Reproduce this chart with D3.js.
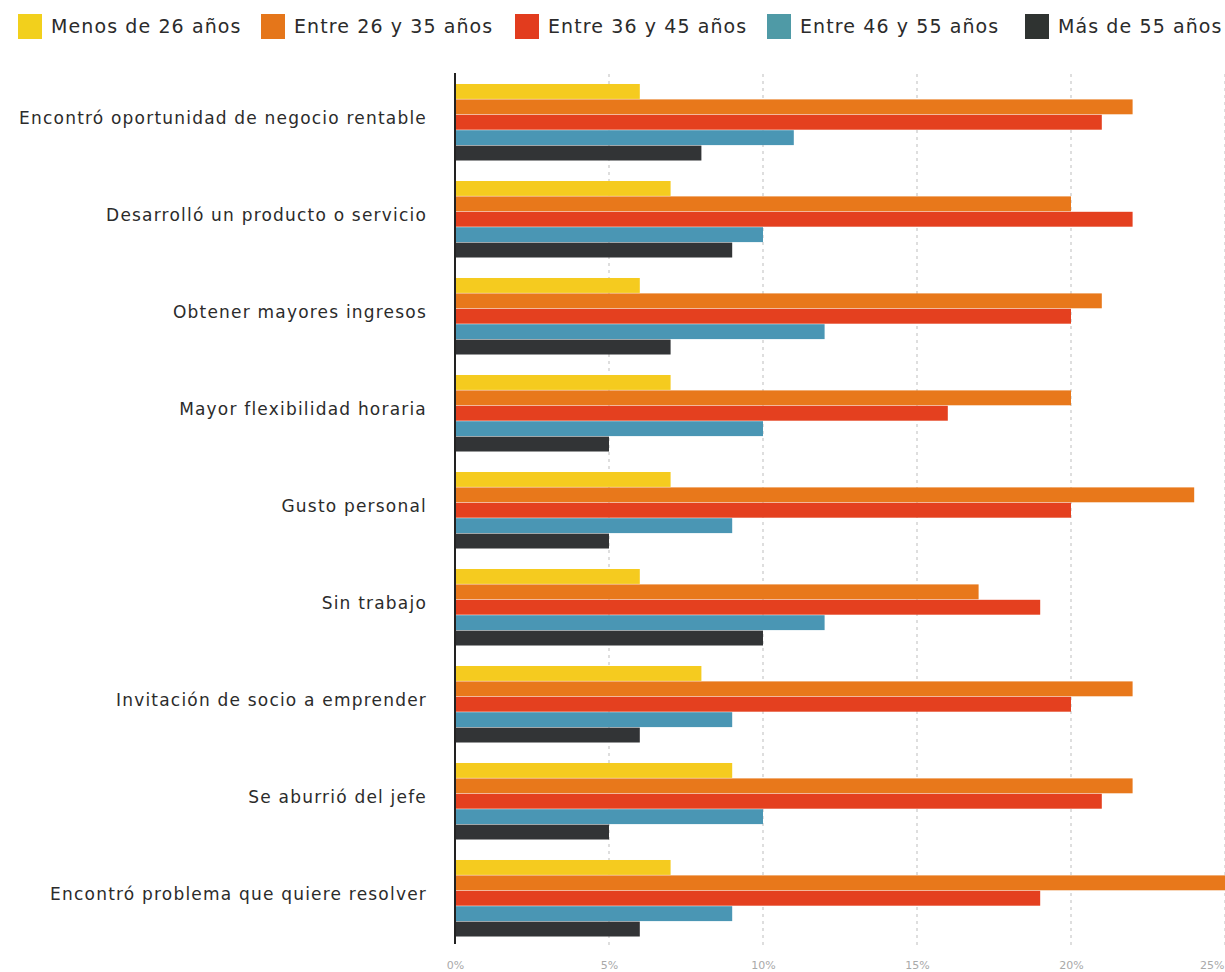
<!DOCTYPE html>
<html><head><meta charset="utf-8">
<script src="https://cdn.jsdelivr.net/npm/d3@7"></script>
<style>
html,body{margin:0;padding:0;background:#fff;}
svg{display:block;font-family:"DejaVu Sans",sans-serif;}
</style></head>
<body>
<svg id="c" width="1225" height="972"></svg>
<script>
const categories = [
  "Encontró oportunidad de negocio rentable",
  "Desarrolló un producto o servicio",
  "Obtener mayores ingresos",
  "Mayor flexibilidad horaria",
  "Gusto personal",
  "Sin trabajo",
  "Invitación de socio a emprender",
  "Se aburrió del jefe",
  "Encontró problema que quiere resolver"
];
const seriesNames = ["Menos de 26 años","Entre 26 y 35 años","Entre 36 y 45 años","Entre 46 y 55 años","Más de 55 años"];
const seriesColors = ["#F5CB1F","#E8781B","#E4401F","#4A96B4","#323436"];
const legendColors = ["#F2D01C","#E5761A","#E23C1E","#4F9AA6","#2F3331"];
const menos26 = [6, 7, 6, 7, 7, 6, 8, 9, 7];
const entre26_35 = [22, 20, 21, 20, 24, 17, 22, 22, 26];
const entre36_45 = [21, 22, 20, 16, 20, 19, 20, 21, 19];
const entre46_55 = [11, 10, 12, 10, 9, 12, 9, 10, 9];
const mas55 = [8, 9, 7, 5, 5, 10, 6, 5, 6];
const tickValues = [0, 5, 10, 15, 20, 25];
const tickLabels = ["0%", "5%", "10%", "15%", "20%", "25%"];

const seriesValues = [menos26, entre26_35, entre36_45, entre46_55, mas55];
const svg = d3.select("#c");
const x = d3.scaleLinear().domain([0, 25]).range([455, 1225]);
const y = d3.scaleBand().domain(categories).range([74, 947]).paddingInner(0.206).paddingOuter(0.103);
const ys = d3.scaleBand().domain(d3.range(5)).range([0, y.bandwidth()]).padding(0);

// gridlines
svg.append("g").selectAll("line").data(tickValues.filter(v => v > 0)).join("line")
  .attr("x1", d => x(d)).attr("x2", d => x(d))
  .attr("y1", 74).attr("y2", 946)
  .attr("stroke", "#bdbdbd").attr("stroke-width", 1).attr("stroke-dasharray", "3,4");

// bars
const groups = svg.append("g").selectAll("g").data(categories).join("g")
  .attr("transform", d => `translate(0,${y(d)})`);
groups.selectAll("rect").data((c, i) => seriesValues.map((s, k) => ({k, v: s[i]}))).join("rect")
  .attr("x", x(0)).attr("y", d => ys(d.k))
  .attr("width", d => x(d.v) - x(0)).attr("height", ys.bandwidth() - 0.5)
  .attr("fill", d => seriesColors[d.k]);

// category labels
svg.append("g").selectAll("text").data(categories).join("text")
  .attr("x", 427).attr("y", d => y(d) + y.bandwidth() / 2 - 4)
  .attr("dy", "0.35em").attr("text-anchor", "end")
  .attr("font-size", 17).attr("letter-spacing", "1.2px").attr("fill", "#2b2b2b").text(d => d);

// y axis line
svg.append("line").attr("x1", x(0)).attr("x2", x(0)).attr("y1", 73).attr("y2", 944)
  .attr("stroke", "#222").attr("stroke-width", 2);

// x tick labels
const xAxis = d3.axisBottom(x).tickValues(tickValues).tickFormat((d, i) => tickLabels[i]).tickSize(0);
const ax = svg.append("g").attr("transform", "translate(0,958)").call(xAxis);
ax.select(".domain").remove();
ax.selectAll("text").attr("font-size", 11).attr("fill", "#a9a9a9").attr("font-family", "DejaVu Sans, sans-serif");
ax.selectAll(".tick").filter(d => d === 25).select("text").attr("text-anchor", "end").attr("dx", "-1");

// legend
const legendX = [18, 261, 515, 767, 1025];
const lg = svg.append("g").selectAll("g").data(seriesNames).join("g")
  .attr("transform", (d, i) => `translate(${legendX[i]},14)`);
lg.append("rect").attr("width", 24).attr("height", 25).attr("fill", (d, i) => legendColors[i]);
lg.append("text").attr("x", 33).attr("y", 19).attr("font-size", 19).attr("letter-spacing", "1.1px").attr("fill", "#2b2b2b").text(d => d);
</script>
</body></html>
